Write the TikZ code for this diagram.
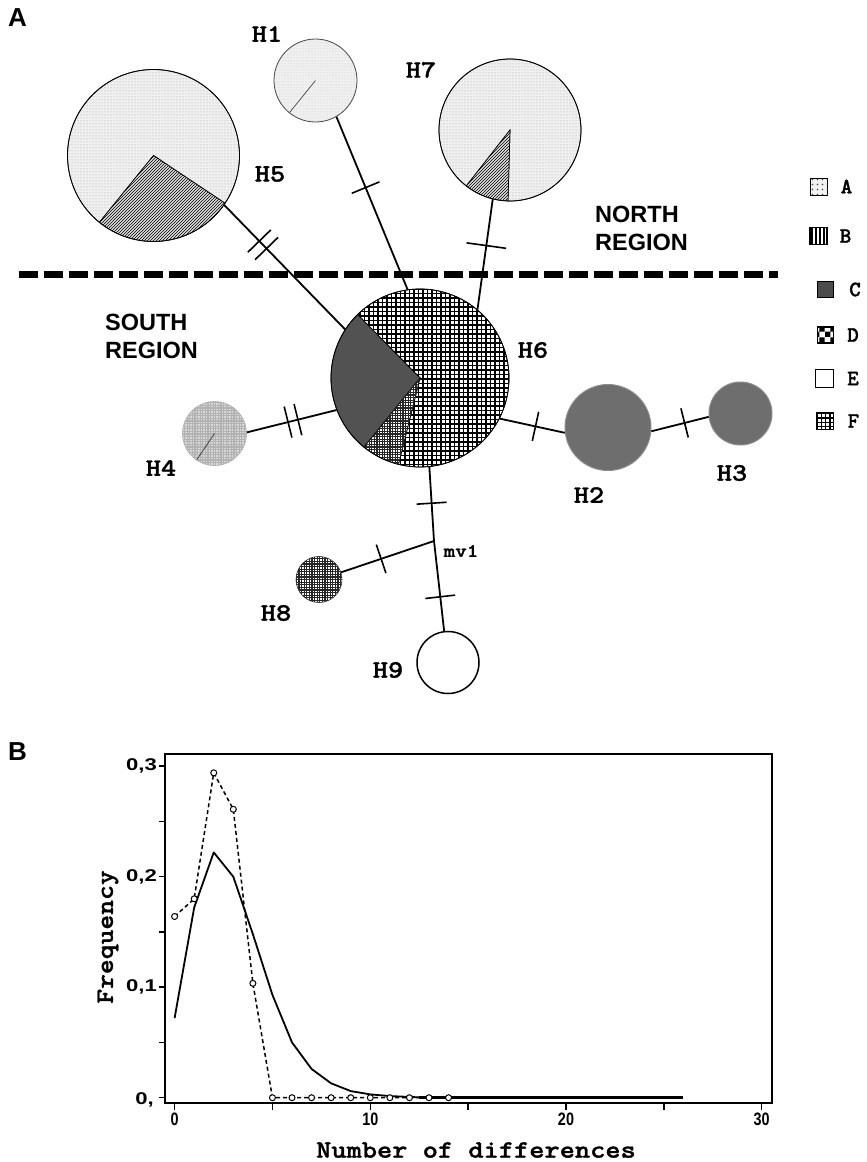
\documentclass[tikz,border=0pt]{standalone}
\usepackage{fontspec}
\setmainfont{Liberation Sans}
\newfontfamily\courb{lmmonolt10-bold.otf}[FakeBold=1.2]
\usetikzlibrary{patterns,decorations.markings}

\pgfdeclarepatternformonly{Dgrid}{\pgfqpoint{-1pt}{-1pt}}{\pgfqpoint{5.5pt}{5.5pt}}{\pgfqpoint{4.5pt}{4.5pt}}{%
 \pgfsetlinewidth{1.3pt}%
 \pgfpathmoveto{\pgfqpoint{0pt}{0pt}}\pgfpathlineto{\pgfqpoint{0pt}{4.6pt}}%
 \pgfpathmoveto{\pgfqpoint{0pt}{0pt}}\pgfpathlineto{\pgfqpoint{4.6pt}{0pt}}%
 \pgfusepath{stroke}}
\pgfdeclarepatternformonly{Fgrid}{\pgfqpoint{-1pt}{-1pt}}{\pgfqpoint{3.6pt}{3.6pt}}{\pgfqpoint{2.6pt}{2.6pt}}{%
 \pgfsetlinewidth{1.1pt}%
 \pgfpathmoveto{\pgfqpoint{0pt}{0pt}}\pgfpathlineto{\pgfqpoint{0pt}{2.7pt}}%
 \pgfpathmoveto{\pgfqpoint{0pt}{0pt}}\pgfpathlineto{\pgfqpoint{2.7pt}{0pt}}%
 \pgfusepath{stroke}}
\pgfdeclarepatternformonly{LegB}{\pgfqpoint{-1pt}{-1pt}}{\pgfqpoint{5pt}{5pt}}{\pgfqpoint{4pt}{4pt}}{%
 \pgfsetlinewidth{1.5pt}%
 \pgfpathmoveto{\pgfqpoint{0pt}{0pt}}\pgfpathlineto{\pgfqpoint{0pt}{4.1pt}}%
 \pgfusepath{stroke}}
\pgfdeclarepatternformonly{LegF}{\pgfqpoint{-1pt}{-1pt}}{\pgfqpoint{5.3pt}{5.3pt}}{\pgfqpoint{4.3pt}{4.3pt}}{%
 \pgfsetlinewidth{1.2pt}%
 \pgfpathmoveto{\pgfqpoint{0pt}{0pt}}\pgfpathlineto{\pgfqpoint{0pt}{4.4pt}}%
 \pgfpathmoveto{\pgfqpoint{0pt}{0pt}}\pgfpathlineto{\pgfqpoint{4.4pt}{0pt}}%
 \pgfusepath{stroke}}
\pgfdeclarepatternformonly{LegD}{\pgfpointorigin}{\pgfqpoint{11pt}{11pt}}{\pgfqpoint{11pt}{11pt}}{%
 \pgfpathrectangle{\pgfpointorigin}{\pgfqpoint{5.5pt}{5.5pt}}%
 \pgfpathrectangle{\pgfqpoint{5.5pt}{5.5pt}}{\pgfqpoint{5.5pt}{5.5pt}}%
 \pgfusepath{fill}}
\pgfdeclarepatternformonly{LegA}{\pgfqpoint{-1pt}{-1pt}}{\pgfqpoint{6pt}{6pt}}{\pgfqpoint{5pt}{5pt}}{%
 \pgfpathcircle{\pgfqpoint{2.5pt}{2.5pt}}{0.8pt}%
 \pgfusepath{fill}}

\newcommand\pieslice[5]{\path[#1] #2 -- ++(#4:#3) arc[start angle=#4,end angle=#5,radius=#3] -- cycle;}
\newcommand\cwide[1]{\scalebox{1.16}[1]{#1}}
\newcommand\cnarrow[1]{\scalebox{0.8}[1]{#1}}
\newcommand\ywide[1]{\scalebox{1.3}[1]{#1}}

\begin{document}
\begin{tikzpicture}[x=1pt,y=-1pt,
 hlab/.style={font=\courb\fontsize{25}{25}\selectfont, inner sep=0pt},
 leglab/.style={font=\courb\fontsize{22}{22}\selectfont, inner sep=0pt},
 region/.style={font=\bfseries\fontsize{23.5}{28}\selectfont, inner sep=0pt, anchor=base west},
 panel/.style={font=\bfseries\fontsize{26}{26}\selectfont, inner sep=0pt, anchor=base west},
 hap/.style={circle, inner sep=0pt, draw=black, line width=0.8pt},
 conn/.style={line width=1.8pt},
 sect/.style={draw=black, line width=0.7pt},
 Afill/.style={fill=gray!12, postaction={pattern=dots, pattern color=gray!75}},
 Bfill/.style={fill=gray!25, postaction={pattern=north east lines, pattern color=black}},
 Cfill/.style={fill=black!68},
 Dfill/.style={fill=white, postaction={pattern=Dgrid, pattern color=black}},
 Ffill/.style={fill=white, postaction={pattern=Fgrid, pattern color=black!85}},
 legbox/.style={draw=black, line width=1.2pt, minimum size=17pt, inner sep=0pt},
 tk/.style={postaction={decorate,decoration={markings,mark=at position #1 with {\draw[line width=1.6pt] (0,-15pt)--(0,15pt);}}}},
 tklong/.style={postaction={decorate,decoration={markings,mark=at position #1 with {\draw[line width=1.6pt] (0,-20pt)--(0,20pt);}}}},
 tktwo/.style 2 args={postaction={decorate,decoration={markings,mark=at position #1 with {\draw[line width=1.6pt] (0,-16pt)--(0,16pt);},mark=at position #2 with {\draw[line width=1.6pt] (0,-16pt)--(0,16pt);}}}},
 axtk/.style={line width=1.5pt},
 ylab/.style={font=\bfseries\fontsize{17}{17}\selectfont, inner sep=0pt, anchor=east},
 xlab/.style={font=\bfseries\fontsize{18}{18}\selectfont, inner sep=0pt},
 obs/.style={line width=1.5pt, dash pattern=on 4pt off 3pt},
 mk/.style={draw=black, fill=white, line width=1pt}
]
\useasboundingbox (0,0) rectangle (867,1162);
\fill[white] (0,0) rectangle (867,1162);

% ---------- panel A ----------
\node[panel] (pA) at (8,26) {A};

% region separator
\draw[line width=7pt, dash pattern=on 19pt off 6pt] (19,274) -- (778,274);
\node[region] (n1) at (595,222) {NORTH};
\node[region] (n2) at (595,250) {REGION};
\node[region] (s1) at (105,330) {SOUTH};
\node[region] (s2) at (105,358) {REGION};

% pies
\pieslice{Afill,sect}{(153.5,155.5)}{86}{129}{393.7}
\pieslice{Bfill,sect}{(153.5,155.5)}{86}{33.7}{129}
\pieslice{Afill,sect}{(510,130)}{71}{128}{451.6}
\pieslice{Bfill,sect}{(510,130)}{71}{91.6}{128}
\path[fill=gray!12, postaction={pattern=dots, pattern color=gray!45}] (315.5,80.5) circle[radius=41.5];
\draw[gray!40!black, line width=0.6pt] (315.5,80.5) -- ++(129:41.5);
\pieslice{Dfill,sect}{(420,378)}{89}{225.5}{464}
\pieslice{Cfill,sect}{(420,378)}{89}{129}{225.5}
\pieslice{Ffill,sect}{(420,378)}{89}{104}{129}
\path[fill=gray!30, postaction={pattern=Fgrid, pattern color=gray!60}] (214.5,433.5) circle[radius=32];
\draw[gray!30!black, line width=0.6pt] (214.5,433.5) -- ++(124:32);
\path[Ffill] (319,579.5) circle[radius=23];

% haplotype nodes
\node[hap, draw=gray!55!black, minimum size=83pt] (H1) at (315.5,80.5) {};
\node[hap, minimum size=172pt] (H5) at (153.5,155.5) {};
\node[hap, minimum size=142pt] (H7) at (510,130) {};
\node[hap, minimum size=178pt] (H6) at (420,378) {};
\node[hap, draw=gray!60, line width=0.6pt, minimum size=64pt] (H4) at (214.5,433.5) {};
\node[circle, inner sep=0pt, fill=black!57, draw=black!45, line width=1pt, minimum size=86pt] (H2) at (608,427.5) {};
\node[circle, inner sep=0pt, fill=black!57, draw=black!45, line width=1pt, minimum size=63pt] (H3) at (740.5,413.5) {};
\node[hap, draw=gray!40!black, line width=0.6pt, minimum size=46pt] (H8) at (319,579.5) {};
\node[hap, line width=1.5pt, fill=white, minimum size=62pt] (H9) at (448,662.5) {};
\coordinate (mv1) at (434,541);

% labels
\node[hlab] (lH1) at (267,34) {\cwide{H1}};
\node[hlab] (lH5) at (270,174) {\cwide{H5}};
\node[hlab] (lH7) at (421,70) {\cwide{H7}};
\node[hlab] (lH6) at (533,350) {\cwide{H6}};
\node[hlab] (lH4) at (161,468) {\cwide{H4}};
\node[hlab] (lH2) at (589,495) {\cwide{H2}};
\node[hlab] (lH3) at (732,473) {\cwide{H3}};
\node[hlab] (lH8) at (276,613) {\cwide{H8}};
\node[hlab] (lH9) at (388,670) {\cwide{H9}};
\node[font=\courb\fontsize{19}{19}\selectfont, inner sep=0pt] (lmv) at (461,551) {\cwide{mv1}};

% connectors
\draw[conn, tktwo={0.29}{0.35}] (H5.325.8) -- (H6.147.7);
\draw[conn, tk={0.41}] (H1.300.7) -- (H6.98.7);
\draw[conn, tklong={0.42}] (H7.256) -- (H6.50.8);
\draw[conn, tktwo={0.46}{0.57}] (H4.2.6) -- (H6.201.2);
\draw[conn, tk={0.55}] (H6.333.4) -- (H2.187.3);
\draw[conn, tk={0.58}] (H2.355.2) -- (H3.186.5);
\draw[conn, tk={0.49}] (H6.276) -- (mv1);
\draw[conn, tk={0.62}] (mv1) -- (H9.97.5);
\draw[conn, tk={0.57}] (mv1) -- (H8.18);

% legend
\node[legbox, fill=gray!10, postaction={pattern=LegA, pattern color=black!70}] (kA) at (819,187) {};
\node[legbox, fill=white, postaction={pattern=LegB, pattern color=black}] (kB) at (818.5,236) {};
\node[legbox, fill=black!70, minimum size=16pt] (kC) at (825.5,289.5) {};
\node[legbox, fill=white, postaction={pattern=LegD, pattern color=black}, minimum size=16pt] (kD) at (825.5,335) {};
\node[legbox, fill=white, minimum size=18pt] (kE) at (824.5,378.5) {};
\node[legbox, fill=white, postaction={pattern=LegF, pattern color=black}] (kF) at (825,421) {};
\node[leglab] (tA) at (846.5,186.5) {A};
\node[leglab] (tB) at (845.5,236) {B};
\node[leglab] (tC) at (855,289.5) {C};
\node[leglab] (tD) at (853,335) {D};
\node[leglab] (tE) at (853,378.5) {E};
\node[leglab] (tF) at (853.5,421) {F};

% ---------- panel B ----------
\node[panel] (pB) at (8,760) {B};
\draw[line width=2pt] (165,754) rectangle (772,1103);
\foreach \yy in {1097.7,1042.5,987.2,932,876.7,821.5,766.2} \draw[axtk] (159,\yy) -- (165,\yy);
\foreach \xx in {174.6,272.5,370.3,468.2,566,663.9,761.7} \draw[axtk] (\xx,1103) -- (\xx,1110);
\node[ylab] (y3) at (157,766.2) {\ywide{0,3}};
\node[ylab] (y2) at (157,876.7) {\ywide{0,2}};
\node[ylab] (y1) at (157,987.2) {\ywide{0,1}};
\node[ylab] (y0) at (154,1100) {\ywide{0,}};
\node[xlab] (x0) at (174.6,1119) {\cnarrow{0}};
\node[xlab] (x10) at (370.3,1119) {\cnarrow{10}};
\node[xlab] (x20) at (566,1119) {\cnarrow{20}};
\node[xlab] (x30) at (761.7,1119) {\cnarrow{30}};
\node[hlab] (xt) at (476,1150) {\cwide{Number of differences}};
\node[hlab, rotate=90] (yt) at (108,937) {\scalebox{1.13}[1]{Frequency}};

\begin{scope}[shift={(174.6,1097.7)}, x=19.57pt, y=1105pt]
 \draw[line width=1.8pt, line join=round] plot coordinates {(0,0.072) (1,0.172) (2,0.222) (3,0.200) (4,0.148) (5,0.093) (6,0.050) (7,0.026) (8,0.013) (9,0.006) (10,0.003) (11,0.0015) (12,0.0007) (13,0)};
 \draw[line width=3pt] (12.5,0) -- (26,0);
 \draw[obs] plot coordinates {(0,0.164) (1,0.180) (2,0.294) (3,0.261) (4,0.1035) (5,0) (14,0)};
 \foreach \px/\py in {0/0.164,1/0.180,2/0.294,3/0.261,4/0.1035,5/0,6/0,7/0,8/0,9/0,10/0,11/0,12/0,13/0,14/0}
   \path[mk] (\px,\py) circle[radius=3pt];
\end{scope}
\end{tikzpicture}
\end{document}
